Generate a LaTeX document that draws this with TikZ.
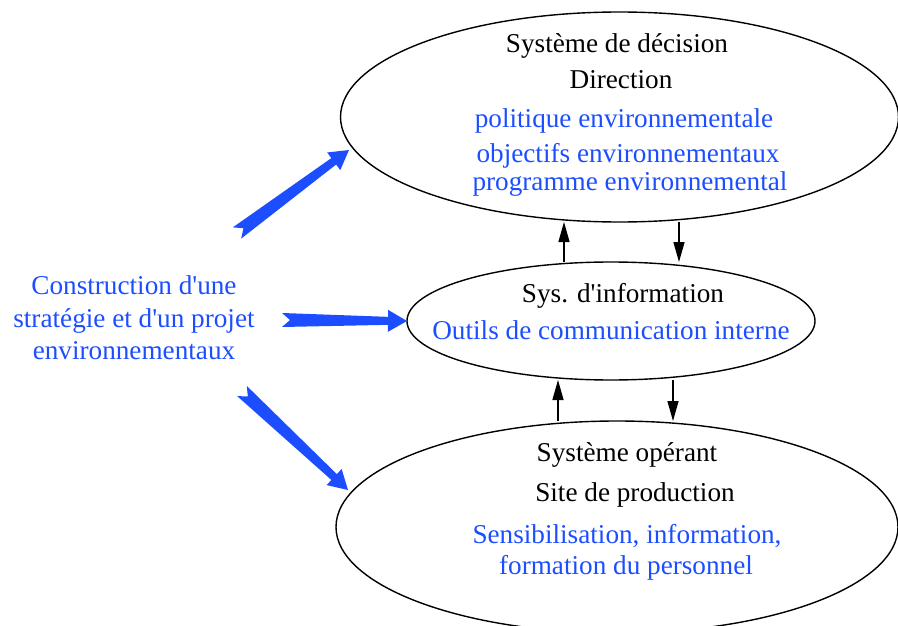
\documentclass[tikz,border=0pt]{standalone}
\usepackage{fontspec}
\setmainfont{Liberation Serif}
\usetikzlibrary{shapes.geometric,arrows.meta,calc}
\definecolor{myblue}{RGB}{28,78,255}
\tikzset{
  ell/.style={draw=black, line width=1.4pt, shape=ellipse, inner sep=0pt, outer sep=0pt},
  txt/.style={inner sep=0pt, text height=17.5pt, text depth=5.8pt, font=\fontsize{27.2}{32.5}\selectfont},
  btxt/.style={txt, text=black},
  ctxt/.style={txt, text=myblue},
  flow/.style={line width=1.4pt, -{Triangle[length=20pt,width=11pt]}},
}
\newcommand{\ap}{\textquotesingle}
\newcommand{\blockarrow}[3]{%
  \coordinate (#3-n) at ($(#1)!8pt!(#2)$);
  \coordinate (#3-h) at ($(#2)!19pt!(#1)$);
  \fill[myblue] (#3-n) -- ($(#1)!7pt!90:(#2)$) -- ($(#3-h)!4pt!90:(#2)$) -- ($(#3-h)!11pt!90:(#2)$)
    -- (#2) -- ($(#3-h)!11pt!-90:(#2)$) -- ($(#3-h)!4pt!-90:(#2)$) -- ($(#1)!7pt!-90:(#2)$) -- cycle;
}
\begin{document}
\begin{tikzpicture}[x=1pt,y=-1pt]
\useasboundingbox (0,0) rectangle (898,626);
\clip (0,0) rectangle (898,626);
% ellipses
\node[ell, minimum width=558pt, minimum height=210pt] (top) at (619.5,117) {};
\node[ell, minimum width=408pt, minimum height=118pt] (mid) at (611,321) {};
\node[ell, minimum width=562pt, minimum height=212pt] (bot) at (617,527) {};
% texts top
\node[btxt] (t1) at (617,47) {Système de décision};
\node[btxt] (t2) at (621,83) {Direction};
\node[ctxt] (t3) at (624,122) {politique environnementale};
\node[ctxt] (t4) at (628,157) {objectifs environnementaux};
\node[ctxt] (t5) at (630,185) {programme environnemental};
% texts middle
\node[btxt] (m1) at (623,297) {Sys. d\ap information};
\node[ctxt] (m2) at (611,334) {Outils de communication interne};
% texts bottom
\node[btxt] (b1) at (627,456) {Système opérant};
\node[btxt] (b2) at (635,496) {Site de production};
\node[ctxt] (b3) at (627,538) {Sensibilisation, information,};
\node[ctxt] (b4) at (626,569) {formation du personnel};
% left text
\node[font=\fontsize{27.2}{32.5}\selectfont, text=myblue, align=center, inner sep=0pt] (left) at (134,318)
  {Construction d\ap une\\stratégie et d\ap un projet\\environnementaux};
% black arrows
\coordinate (x1) at (564,0);
\coordinate (x2) at (679,0);
\coordinate (x3) at (558,0);
\coordinate (x4) at (673,0);
\draw[flow] (mid.north -| x1) -- (top.south -| x1);
\draw[flow] (top.south -| x2) -- (mid.north -| x2);
\draw[flow] (bot.north -| x3) -- (mid.south -| x3);
\draw[flow] (mid.south -| x4) -- (bot.north -| x4);
% blue arrows
\coordinate (a1s) at (237,233);
\coordinate (a1e) at (349,150);
\coordinate (a2s) at (282,320);
\coordinate (a2e) at (407,321);
\coordinate (a3s) at (242,391);
\coordinate (a3e) at (348,490);
\blockarrow{a1s}{a1e}{ba1}
\blockarrow{a2s}{a2e}{ba2}
\blockarrow{a3s}{a3e}{ba3}
\end{tikzpicture}
\end{document}
